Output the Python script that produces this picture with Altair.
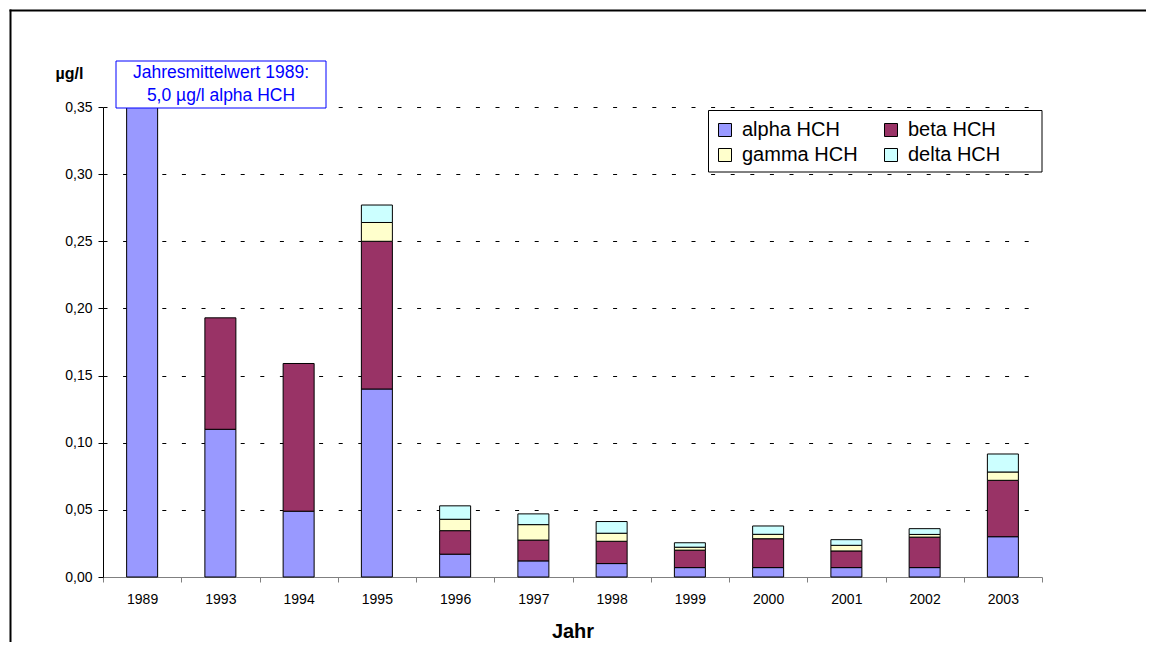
import altair as alt
import pandas as pd

years = ["1989", "1993", "1994", "1995", "1996", "1997", "1998", "1999", "2000", "2001", "2002", "2003"]
alpha_hch = [5.0, 0.110, 0.049, 0.140, 0.017, 0.012, 0.010, 0.007, 0.007, 0.007, 0.007, 0.030]
beta_hch = [0.0, 0.083, 0.110, 0.110, 0.0175, 0.0155, 0.0166, 0.013, 0.0215, 0.0124, 0.0227, 0.042]
gamma_hch = [0.0, 0.0, 0.0, 0.014, 0.0085, 0.0115, 0.006, 0.0022, 0.0033, 0.0042, 0.002, 0.0062]
delta_hch = [0.0, 0.0, 0.0, 0.013, 0.010, 0.008, 0.0087, 0.0033, 0.0062, 0.0042, 0.0043, 0.0134]
series = ["alpha HCH", "beta HCH", "gamma HCH", "delta HCH"]
colors = ["#9999FF", "#993366", "#FFFFCC", "#CCFFFF"]
y_ticks = [0.0, 0.05, 0.10, 0.15, 0.20, 0.25, 0.30, 0.35]
note_lines = ["Jahresmittelwert 1989:", "5,0 µg/l alpha HCH"]

rows = []
for k, (name, vals) in enumerate(zip(series, [alpha_hch, beta_hch, gamma_hch, delta_hch])):
    for i, yr in enumerate(years):
        rows.append({"Jahr": yr, "Stoff": name, "Wert": vals[i], "rank": k})
df = pd.DataFrame(rows)

FONT = "Liberation Sans"

bars = alt.Chart(df).transform_filter("datum.Wert > 0").mark_bar(
    size=31, stroke="black", strokeWidth=1
).encode(
    x=alt.X("Jahr:N", sort=years, scale=alt.Scale(paddingInner=0, paddingOuter=0),
            axis=alt.Axis(title="Jahr", titleFontSize=20, titleFontWeight="bold", titleColor="black",
                          titleY=60, titleBaseline="alphabetic",
                          labelFontSize=14, labelAngle=0, labelColor="black", labelPadding=21,
                          labelBaseline="alphabetic",
                          tickBand="extent", domainColor="#808080", tickColor="#808080",
                          tickSize=5, grid=False)),
    y=alt.Y("Wert:Q", stack="zero",
            scale=alt.Scale(domain=[0, 0.35], nice=False, clamp=True, zero=True),
            axis=alt.Axis(values=y_ticks, labelExpr="replace(format(datum.value, '.2f'), '.', ',')",
                          labelFontSize=14, labelColor="black", labelPadding=6,
                          tickSize=5, tickColor="black", domainColor="black",
                          grid=True, gridColor="black", gridDash=[4, 15.6], gridWidth=1,
                          gridOpacity=alt.condition("datum.value == 0", alt.value(0), alt.value(1)),
                          title="µg/l", titleAngle=0, titleX=-34, titleY=-34, titleAlign="center",
                          titleBaseline="middle", titleFontWeight="bold", titleFontSize=16,
                          titleColor="black")),
    color=alt.Color("Stoff:N", sort=series, scale=alt.Scale(domain=series, range=colors),
                    legend=alt.Legend(title=None, orient="none", legendX=602, legendY=3,
                                      direction="horizontal",
                                      columns=2, gridAlign="all", columnPadding=23, rowPadding=5,
                                      padding=10,
                                      symbolType="square", symbolSize=169,
                                      symbolStrokeColor="black", symbolStrokeWidth=1,
                                      labelFontSize=20, labelOffset=7, labelLimit=300,
                                      labelColor="black")),
    order=alt.Order("rank:Q", sort="ascending"),
)

one = pd.DataFrame({"k": [0]})

legend_box = alt.Chart(one).mark_rect(fill="white", stroke="black", strokeWidth=1).encode(
    x=alt.value(605.5), x2=alt.value(939), y=alt.value(3.5), y2=alt.value(65)
)
note_box = alt.Chart(one).mark_rect(fill="white", stroke="#0000FF", strokeWidth=1).encode(
    x=alt.value(13), x2=alt.value(223), y=alt.value(-46), y2=alt.value(1)
)
note1 = alt.Chart(one).mark_text(font=FONT, fontSize=17.5, color="#0000FF", align="center",
                                 baseline="middle", text=note_lines[0]).encode(
    x=alt.value(118), y=alt.value(-34))
note2 = alt.Chart(one).mark_text(font=FONT, fontSize=17.5, color="#0000FF", align="center",
                                 baseline="middle", text=note_lines[1]).encode(
    x=alt.value(118), y=alt.value(-11))

frame_left = alt.Chart(one).mark_rule(color="black", strokeWidth=2).encode(
    x=alt.value(-92.5), y=alt.value(-97.5), y2=alt.value(545))
frame_top = alt.Chart(one).mark_rule(color="black", strokeWidth=2).encode(
    x=alt.value(-93.5), x2=alt.value(1052), y=alt.value(-96.5))

chart = alt.layer(bars, legend_box, note_box, note1, note2, frame_left, frame_top).properties(
    width=939, height=470,
    autosize=alt.AutoSizeParams(type="none"),
    padding={"left": 95, "top": 99, "right": 104, "bottom": 65},
).configure(font=FONT).configure_view(stroke=None)

chart.save("out.html", embed_options={"renderer": "svg", "actions": False})
